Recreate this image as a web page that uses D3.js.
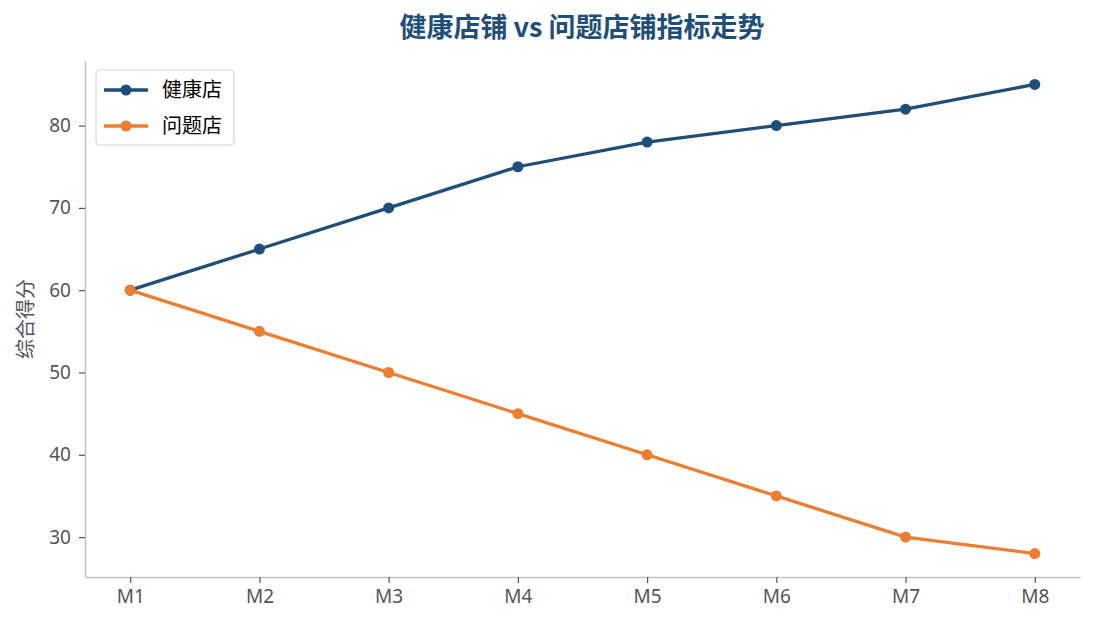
<!DOCTYPE html>
<html lang="zh">
<head>
<meta charset="utf-8">
<script src="https://d3js.org/d3.v7.min.js"></script>
<style>
  body { margin: 0; background: #fff; }
  svg text { font-family: "Noto Sans", "Noto Sans CJK SC", sans-serif; }
</style>
</head>
<body>
<div id="chart"></div>
<script>
// donnees
const mois = ["M1", "M2", "M3", "M4", "M5", "M6", "M7", "M8"];
const sains = [60, 65, 70, 75, 78, 80, 82, 85];
const problemes = [60, 55, 50, 45, 40, 35, 30, 28];
const graduationsY = [30, 40, 50, 60, 70, 80];
const series = [
  { nom: "健康店", valeurs: sains, couleur: "#1f4e79" },
  { nom: "问题店", valeurs: problemes, couleur: "#ed7d31" }
];

const largeur = 1095, hauteur = 629;
const marge = { haut: 61, droite: 15, bas: 52, gauche: 85 };

const svg = d3.select("#chart").append("svg")
  .attr("width", largeur).attr("height", hauteur);

const x = d3.scaleLinear()
  .domain([-0.35, mois.length - 1 + 0.35])
  .range([marge.gauche, largeur - marge.droite]);
const y = d3.scaleLinear()
  .domain([25.15, 87.85])
  .range([hauteur - marge.bas, marge.haut]);

// axes
const axeX = svg.append("g")
  .attr("transform", "translate(0," + (hauteur - marge.bas) + ")")
  .call(d3.axisBottom(x).tickValues(d3.range(mois.length)).tickFormat(i => mois[i])
    .tickSizeInner(6).tickSizeOuter(0).tickPadding(7));
const axeY = svg.append("g")
  .attr("transform", "translate(" + marge.gauche + ",0)")
  .call(d3.axisLeft(y).tickValues(graduationsY).tickSizeInner(6).tickSizeOuter(0).tickPadding(8));
[axeX, axeY].forEach(a => {
  a.select(".domain").attr("stroke", "#c4c4c4").attr("stroke-width", 1.5);
  a.selectAll(".tick line").attr("stroke", "#555").attr("stroke-width", 1.2);
  a.selectAll(".tick text").attr("fill", "#555").style("font-size", "19px");
});

// titre et libelle
svg.append("text")
  .attr("x", 582).attr("y", 37)
  .attr("text-anchor", "middle")
  .attr("fill", "#1f4e79")
  .style("font-size", "27px").style("font-weight", "bold")
  .style("font-family", "'Noto Sans CJK SC', sans-serif")
  .text("健康店铺 vs 问题店铺指标走势");
svg.append("text")
  .attr("transform", "translate(33," + ((marge.haut + hauteur - marge.bas) / 2) + ") rotate(-90)")
  .attr("text-anchor", "middle")
  .attr("fill", "#555")
  .style("font-size", "20px")
  .style("font-family", "'Noto Sans CJK SC', sans-serif")
  .text("综合得分");

// courbes
const ligne = d3.line().x((d, i) => x(i)).y(d => y(d));
series.forEach(s => {
  svg.append("path")
    .datum(s.valeurs)
    .attr("d", ligne)
    .attr("fill", "none")
    .attr("stroke", s.couleur)
    .attr("stroke-width", 3.3)
    .attr("stroke-linejoin", "round");
  svg.append("g").selectAll("circle")
    .data(s.valeurs)
    .join("circle")
    .attr("cx", (d, i) => x(i))
    .attr("cy", d => y(d))
    .attr("r", 5.5)
    .attr("fill", s.couleur);
});

// legende
const legende = svg.append("g").attr("transform", "translate(96,70)");
legende.append("rect")
  .attr("width", 138).attr("height", 75).attr("rx", 4)
  .attr("fill", "#fff").attr("fill-opacity", 0.85)
  .attr("stroke", "#d6d6d6").attr("stroke-width", 1.2);
series.forEach((s, i) => {
  const ly = 20 + i * 36;
  legende.append("line")
    .attr("x1", 8).attr("x2", 52).attr("y1", ly).attr("y2", ly)
    .attr("stroke", s.couleur).attr("stroke-width", 3.3);
  legende.append("circle").attr("cx", 30).attr("cy", ly).attr("r", 5.5).attr("fill", s.couleur);
  legende.append("text")
    .attr("x", 66).attr("y", ly).attr("dy", "0.35em")
    .style("font-size", "20px")
    .style("font-family", "'Noto Sans CJK SC', sans-serif")
    .attr("fill", "#000")
    .text(s.nom);
});
</script>
</body>
</html>
